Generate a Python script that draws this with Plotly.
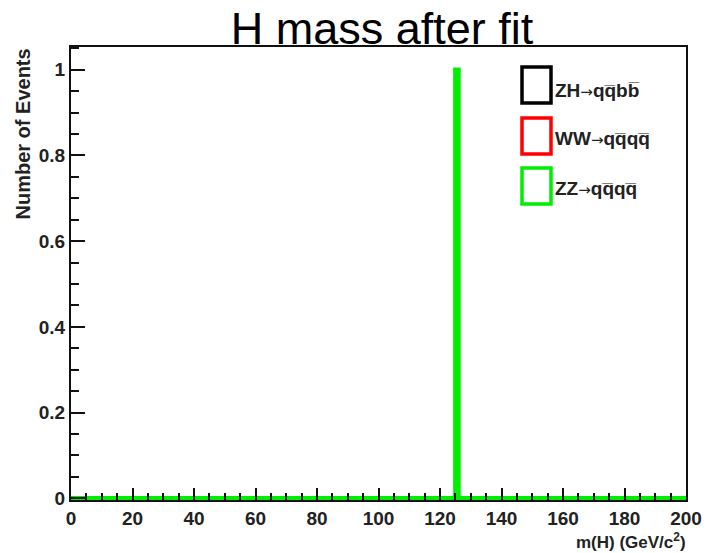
import numpy as np
import plotly.graph_objects as go

# ---- data ----
series_labels = [("ZH", "qq\u0305bb\u0305"), ("WW", "qq\u0305qq\u0305"), ("ZZ", "qq\u0305qq\u0305")]
series_colors = ["#000000", "#ff0000", "#00ee00"]
# fitted H masses per sample (GeV/c^2); only one ZZ event passes
zh_masses = []
ww_masses = []
zz_masses = [125.3]
x_ticks = [0, 20, 40, 60, 80, 100, 120, 140, 160, 180, 200]
y_ticks = [0, 0.2, 0.4, 0.6, 0.8, 1]
y_tick_labels = ["0", "0.2", "0.4", "0.6", "0.8", "1"]

edges = np.arange(0, 201, 1)

W, H = 707, 553
L, R, T, B = 71, 686, 47, 500


def px(x):
    return (x - L) / (R - L)


def py(y):
    return (B - y) / (B - T)


fig = go.Figure()
for (a, b), col, masses in zip(series_labels, series_colors, [zh_masses, ww_masses, zz_masses]):
    counts, _ = np.histogram(masses, bins=edges)
    yv = list(counts) + [counts[-1]]
    fig.add_trace(go.Scatter(x=list(edges), y=yv, mode="lines", line_shape="hv",
                             line=dict(color=col, width=4.5), name=a + "\u2192" + b,
                             showlegend=False, hoverinfo="skip"))

shapes = []
annotations = []
rows = [(67, 103, 90), (118, 154, 138), (168, 204, 188)]
arrow = "<span style='font-family:DejaVu Sans;font-weight:normal;font-size:15px'>\u2192</span>"
for (y0, y1, yc), (a, b), col in zip(rows, series_labels, series_colors):
    shapes.append(dict(type="rect", xref="paper", yref="paper",
                       x0=px(522), x1=px(551), y0=py(y1), y1=py(y0),
                       line=dict(color=col, width=3.5)))
    annotations.append(dict(text="<b>" + a + "</b>" + arrow + "<b>" + b + "</b>",
                            xref="paper", yref="paper",
                            x=px(553), y=py(yc), xanchor="left", yanchor="middle",
                            showarrow=False, font=dict(size=19, color="#222")))

annotations.append(dict(text="<b>m(H) (GeV/c<sup>2</sup>)</b>", xref="paper", yref="paper",
                        x=px(688), y=py(541), xanchor="right", yanchor="middle",
                        showarrow=False, font=dict(size=17, color="#222")))
annotations.append(dict(text="<b>Number of Events</b>", xref="paper", yref="paper",
                        x=px(22), y=py(47), xanchor="center", yanchor="top", textangle=-90,
                        showarrow=False, font=dict(size=20, color="#222")))

fig.update_layout(
    width=W, height=H,
    margin=dict(l=L, r=W - R, t=T, b=H - B),
    paper_bgcolor="white", plot_bgcolor="white",
    font=dict(family="Liberation Sans, Arial, sans-serif", color="#222"),
    title=dict(text="H mass after fit", x=382 / W, xanchor="center", y=1 - 28 / H,
               yanchor="middle", xref="container", yref="container",
               font=dict(size=45, color="#000", family="Liberation Sans, Arial, sans-serif")),
    shapes=shapes, annotations=annotations,
    showlegend=False,
)
fig.update_xaxes(range=[0, 200], tickvals=x_ticks, ticktext=["<b>%d</b>" % v for v in x_ticks],
                 ticks="inside", ticklen=12, tickwidth=2, tickcolor="#111",
                 minor=dict(dtick=5, ticks="inside", ticklen=7, tickwidth=2, tickcolor="#111"),
                 showline=True, linecolor="#111", linewidth=2, mirror=True, automargin=False,
                 showgrid=False, zeroline=False, tickfont=dict(size=19, color="#222"))
fig.update_yaxes(range=[-0.004, 1.053], tickvals=y_ticks, ticktext=["<b>%s</b>" % t for t in y_tick_labels],
                 ticks="inside", ticklen=14, tickwidth=2, tickcolor="#111",
                 minor=dict(dtick=0.05, ticks="inside", ticklen=8, tickwidth=2, tickcolor="#111"),
                 showline=True, linecolor="#111", linewidth=2, mirror=True, automargin=False,
                 showgrid=False, zeroline=False, tickfont=dict(size=19, color="#222"))

fig.write_html("out.html", config={"displayModeBar": False},
               post_script="document.body.style.margin='0';")
